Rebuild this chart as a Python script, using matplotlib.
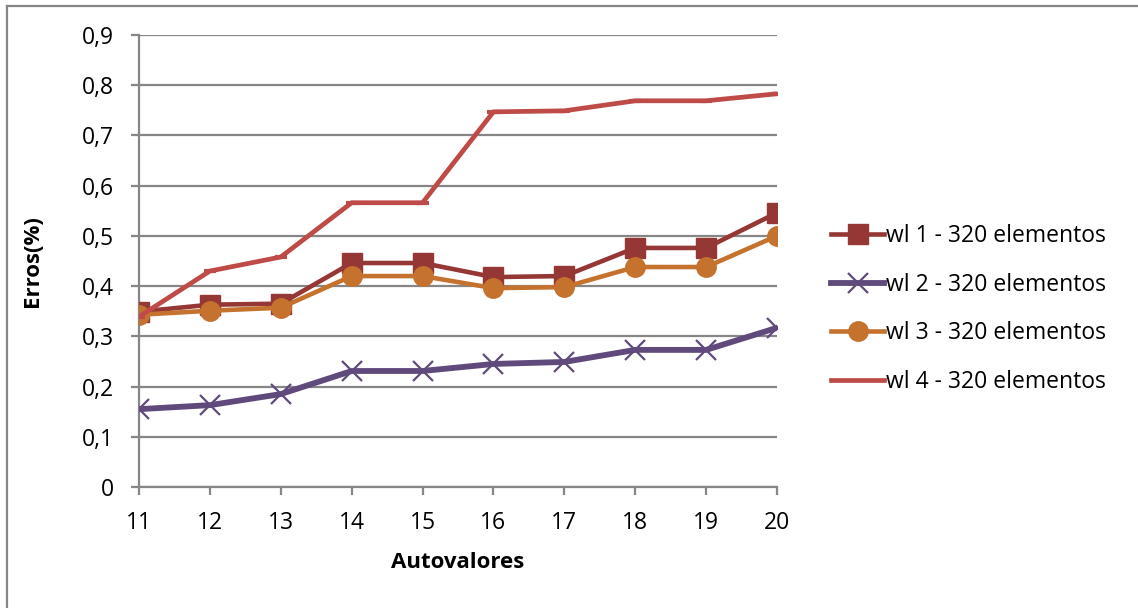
import matplotlib
matplotlib.use("Agg")
import matplotlib.pyplot as plt
from matplotlib.lines import Line2D

plt.rcParams['font.family'] = ['Open Sans', 'DejaVu Sans']

autovalores = [11, 12, 13, 14, 15, 16, 17, 18, 19, 20]
wl1 = [0.349, 0.363, 0.365, 0.446, 0.446, 0.418, 0.420, 0.476, 0.476, 0.546]
wl2 = [0.155, 0.163, 0.185, 0.231, 0.231, 0.245, 0.249, 0.273, 0.273, 0.317]
wl3 = [0.343, 0.351, 0.357, 0.420, 0.420, 0.396, 0.398, 0.438, 0.438, 0.500]
wl4 = [0.339, 0.430, 0.458, 0.566, 0.566, 0.747, 0.749, 0.769, 0.769, 0.783]
labels = ["wl 1 - 320 elementos", "wl 2 - 320 elementos",
          "wl 3 - 320 elementos", "wl 4 - 320 elementos"]
yticks = [0, 0.1, 0.2, 0.3, 0.4, 0.5, 0.6, 0.7, 0.8, 0.9]

W, H = 1138, 608
FS = 16.5
ax_l, ax_r, ax_t, ax_b = 139, 777, 35, 487
fig = plt.figure(figsize=(W / 100, H / 100), dpi=100)
ax = fig.add_axes([ax_l / W, 1 - ax_b / H, (ax_r - ax_l) / W, (ax_b - ax_t) / H])

grid_c = "#868686"
c1, c2, c3, c4 = "#953735", "#604A7B", "#C4722E", "#BE4B48"

ax.plot(autovalores, wl1, color=c1, lw=3.3, marker='s', ms=14, mec=c1, mfc=c1,
        label=labels[0], zorder=3, solid_joinstyle='round')
ax.plot(autovalores, wl2, color=c2, lw=4.2, marker='x', ms=14, mew=1.6, mec=c2,
        label=labels[1], zorder=3, solid_joinstyle='round')
ax.plot(autovalores, wl3, color=c3, lw=3.3, marker='o', ms=14, mec=c3, mfc=c3,
        label=labels[2], zorder=3, solid_joinstyle='round')
ax.plot(autovalores, wl4, color=c4, lw=3.4, marker='_', ms=9, mew=3, mec=c4,
        label=labels[3], zorder=4, solid_joinstyle='round')

ax.set_xlim(11, 20)
ax.set_ylim(0, 0.9)
ax.set_xticks(autovalores)
ax.set_xticklabels([str(v) for v in autovalores])
ax.set_yticks(yticks)
ax.set_yticklabels(["0"] + [f"{v:.1f}".replace(".", ",") for v in yticks[1:]])

ax.yaxis.grid(True, color=grid_c, lw=1.6)
ax.set_axisbelow(True)
for s in ["top", "right"]:
    ax.spines[s].set_visible(False)
for s in ["left", "bottom"]:
    ax.spines[s].set_color(grid_c)
    ax.spines[s].set_linewidth(1.6)
ax.tick_params(axis='both', colors=grid_c, length=6, width=1.6, labelsize=FS,
               labelcolor="black")
ax.tick_params(axis='x', pad=11)
ax.tick_params(axis='y', pad=12)

ax.set_xlabel("Autovalores", fontsize=FS - 0.5, fontweight='bold', va='center')
ax.set_ylabel("Erros(%)", fontsize=FS - 0.5, fontweight='bold', va='center')
ax.xaxis.set_label_coords(0.5, (ax_b - 562) / (ax_b - ax_t))
ax.yaxis.set_label_coords((33 - ax_l) / (ax_r - ax_l), 0.5)

handles = [
    Line2D([], [], color=c1, lw=3.3, marker='s', ms=14, mfc=c1, mec=c1),
    Line2D([], [], color=c2, lw=4.2, marker='x', ms=14, mew=1.6, mec=c2),
    Line2D([], [], color=c3, lw=3.3, marker='o', ms=14, mfc=c3, mec=c3),
    Line2D([], [], color=c4, lw=3.4),
]
fig.legend(handles, labels, loc='center left', bbox_to_anchor=(822 / W, 1 - 309 / H),
           frameon=False, fontsize=FS, handlelength=2.3, handletextpad=0.1,
           labelspacing=1.07, borderaxespad=0)

# chart area frame
fig.add_artist(Line2D([7 / W, 7 / W], [0, 1 - 6 / H], transform=fig.transFigure,
                      color=grid_c, lw=1.6))
fig.add_artist(Line2D([7 / W, 1], [1 - 6 / H, 1 - 6 / H], transform=fig.transFigure,
                      color=grid_c, lw=1.6))

fig.savefig("out.png", dpi=100)
